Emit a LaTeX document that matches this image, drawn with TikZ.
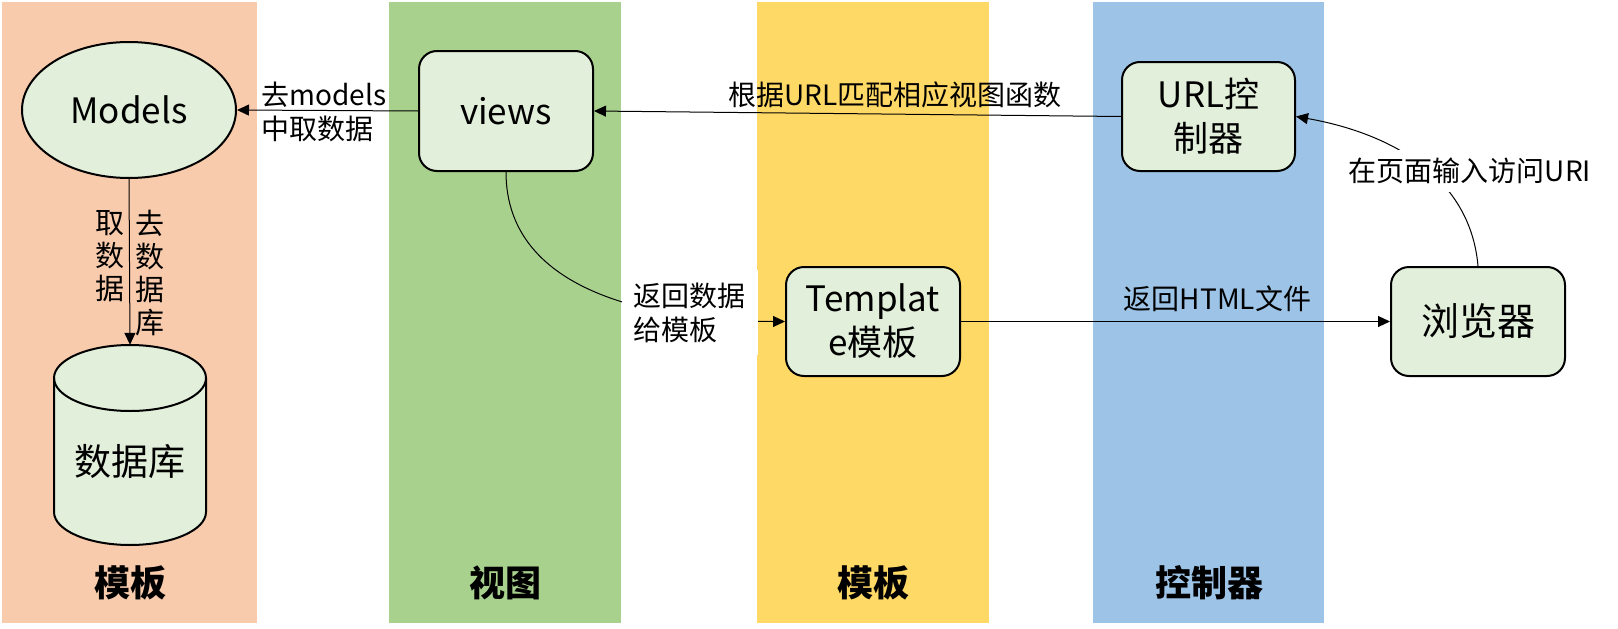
\documentclass[tikz,border=0pt]{standalone}
\usepackage{fontspec}
\setmainfont{Noto Sans CJK SC}
\usetikzlibrary{shapes.geometric,arrows.meta}
\definecolor{colsalmon}{HTML}{F8CBAD}
\definecolor{colgreen}{HTML}{A9D18E}
\definecolor{colyellow}{HTML}{FFD966}
\definecolor{colblue}{HTML}{9DC3E6}
\definecolor{nodefill}{HTML}{E2EFDA}
\tikzset{
  box/.style={draw=black, line width=2pt, fill=nodefill, rounded corners=18pt, inner sep=0pt, align=center, font=\fontsize{35}{44}\selectfont},
  oval/.style={ellipse, draw=black, line width=2pt, fill=nodefill, inner sep=0pt, font=\fontsize{35}{44}\selectfont},
  elabel/.style={inner sep=0pt, font=\fontsize{28}{34}\selectfont, align=left},
  vlabel/.style={inner sep=0pt, font=\fontsize{29}{33}\selectfont, align=center},
  title/.style={inner sep=0pt, font=\fontsize{36}{40}\selectfont\bfseries},
  conn/.style={draw=black, line width=1pt, -{Triangle[length=12pt,width=11pt]}},
}
\begin{document}
\begin{tikzpicture}[x=1pt,y=-1pt]
\useasboundingbox (0,0) rectangle (1618,629);
\fill[white] (0,0) rectangle (1618,629);
% columns
\fill[colsalmon] (2,2) rectangle (257,623);
\fill[colgreen] (389,2) rectangle (621,623);
\fill[colyellow] (757,2) rectangle (989,623);
\fill[colblue] (1093,2) rectangle (1324,623);
% titles
\node[title] (t1) at (130,583) {模板};
\node[title] (t2) at (505,583) {视图};
\node[title] (t3) at (873,583) {模板};
\node[title] (t4) at (1209,583) {控制器};
% nodes
\node[oval, minimum width=214pt, minimum height=136pt] (models) at (129,110) {Models};
\node[box, minimum width=174pt, minimum height=120pt] (views) at (506,111) {views};
\node[box, minimum width=173pt, minimum height=109pt] (url) at (1208.5,116.5) {URL控\\制器};
\node[box, minimum width=174pt, minimum height=109pt] (tmpl) at (873,321.5) {Templat\\e模板};
\node[box, minimum width=174pt, minimum height=109pt, font=\fontsize{38}{44}\selectfont] (browser) at (1478,321.5) {浏览器};
% database cylinder
\fill[nodefill] (54,378) -- (54,512) arc[start angle=180, end angle=0, x radius=76, y radius=33] -- (206,378) arc[start angle=0, end angle=-180, x radius=76, y radius=33] -- cycle;
\draw[line width=2pt] (54,378) -- (54,512) arc[start angle=180, end angle=0, x radius=76, y radius=33] -- (206,378);
\draw[line width=2pt] (130,378) ellipse[x radius=76, y radius=33];
\node[inner sep=0pt, minimum width=152pt, minimum height=200pt] (db) at (130,445) {};
\node[inner sep=0pt, font=\fontsize{37}{40}\selectfont] (dblabel) at (130,462) {数据库};
% connectors
\draw[conn] (views.west) -- (models.east);
\node[elabel] (l1) at (324,112) {去models\\中取数据};
\draw[conn] (url.west) -- (views.east);
\node[elabel] (l2) at (895,95) {根据URL匹配相应视图函数};
\draw[conn] (views.south) to[out=-90, in=180] (tmpl.west);
\node[elabel, fill=white, text width=112pt, inner xsep=12pt, minimum height=85pt] (l3) at (689.5,312.5) {返回数据\\给模板};
\draw[conn] (tmpl.east) -- (browser.west);
\node[elabel] (l4) at (1217.5,298.5) {返回HTML文件};
\draw[conn] (browser.north) to[out=95, in=-10] (url.east);
\node[elabel, fill=white, inner xsep=4pt, inner ysep=8pt] (l5) at (1470,171) {在页面输入访问URI};
\draw[conn] (models.south) -- (db.north);
\node[vlabel] (l6) at (110,256) {取\\数\\据};
\node[vlabel] (l7) at (150,273) {去\\数\\据\\库};
\end{tikzpicture}
\end{document}
